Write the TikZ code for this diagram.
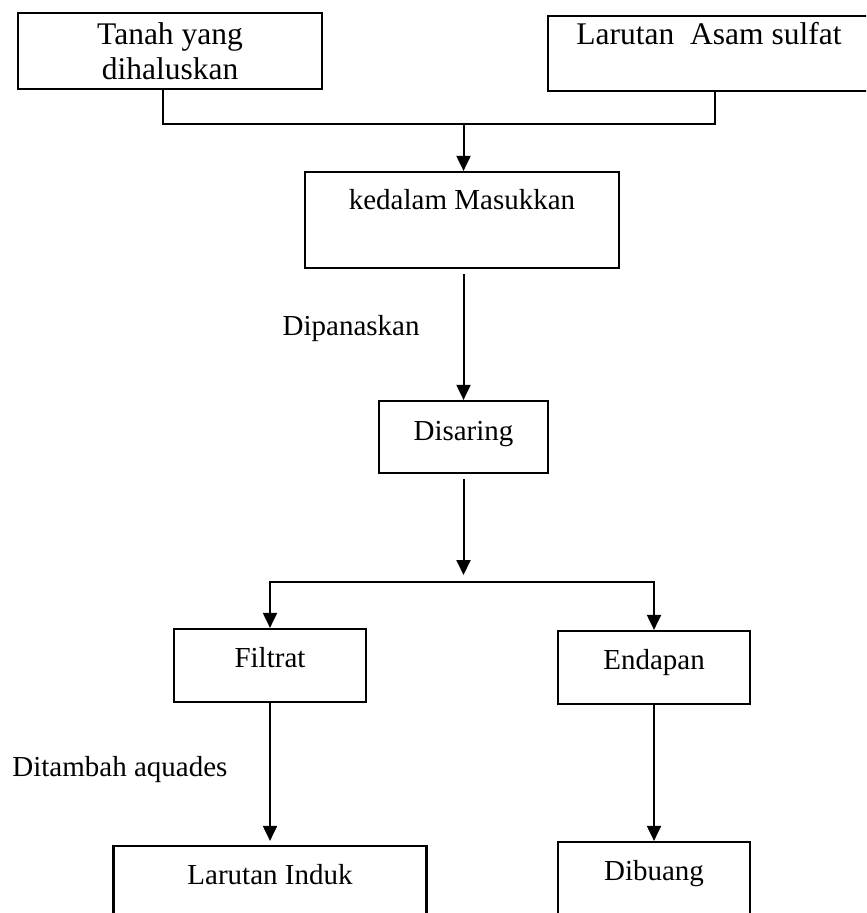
\documentclass[tikz,border=0pt]{standalone}
\usepackage{fontspec}
\setmainfont{Liberation Serif}
\usetikzlibrary{arrows.meta}
\tikzset{
  box/.style={draw,line width=1.1pt,inner sep=0pt,align=center,font=\fontsize{14.5}{17.5}\selectfont},
  topbox/.style={box,font=\fontsize{15.75}{17.5}\selectfont},
  lbl/.style={inner sep=0pt,font=\fontsize{14.5}{17.5}\selectfont},
  arr/.style={-{Triangle[width=7pt,length=7.5pt]},line width=1pt},
}
\begin{document}
\begin{tikzpicture}[x=0.5pt,y=-0.5pt]
        \useasboundingbox (0,0) rectangle (866,913);
        \clip (0,0) rectangle (866,913);
        \node[topbox,minimum width=152pt,minimum height=38pt] (tanah) at (170,51) {Tanah yang\\dihaluskan};
        \node[topbox,minimum width=161pt,minimum height=37.5pt,text height=10pt,text depth=18.5pt] (asam) at (709,53.5) {Larutan\ \ Asam sulfat};
        \node[box,minimum width=157pt,minimum height=48pt,text height=10pt,text depth=20pt] (masuk) at (462,220) {kedalam Masukkan};
        \node[box,minimum width=84.5pt,minimum height=36pt,text height=10pt,text depth=7pt] (saring) at (463.5,437) {Disaring};
        \node[box,minimum width=96pt,minimum height=36.5pt,text height=10pt,text depth=8.5pt] (filtrat) at (270,665.5) {Filtrat};
        \node[box,minimum width=96pt,minimum height=36.5pt,text height=10pt,text depth=8.5pt] (endapan) at (654,667.5) {Endapan};
        \node[box,minimum width=156.5pt,minimum height=48pt,text height=10pt,text depth=20pt] (induk) at (270,894) {Larutan Induk};
        \node[box,minimum width=96pt,minimum height=36.5pt,text height=10pt,text depth=8.5pt] (buang) at (654,878.5) {Dibuang};
        \node[lbl,anchor=base east] (panas) at (420,336) {Dipanaskan};
        \node[lbl,anchor=base west] (aquades) at (12,776) {Ditambah aquades};
        \coordinate (joinL) at (163,124);
        \coordinate (joinR) at (715,124);
        \coordinate (split) at (463.5,582);
        \draw[line width=0.8pt] (tanah.south -| joinL) -- (joinL) -- (joinR) -- (asam.south -| joinR);
        \draw[arr] (saring.north |- joinL) -- (masuk.north -| saring.north);
        \draw[arr,shorten <=2.5pt] (saring.north |- masuk.south) -- (saring.north);
        \draw[arr,shorten <=2.5pt,shorten >=3.5pt] (saring.south) -- (split);
        \draw[arr] (split) -| (filtrat.north);
        \draw[arr] (split) -| (endapan.north);
        \draw[arr,shorten >=2pt] (filtrat.south) -- (induk.north);
        \draw[arr] (endapan.south) -- (buang.north);
\end{tikzpicture}
\end{document}
